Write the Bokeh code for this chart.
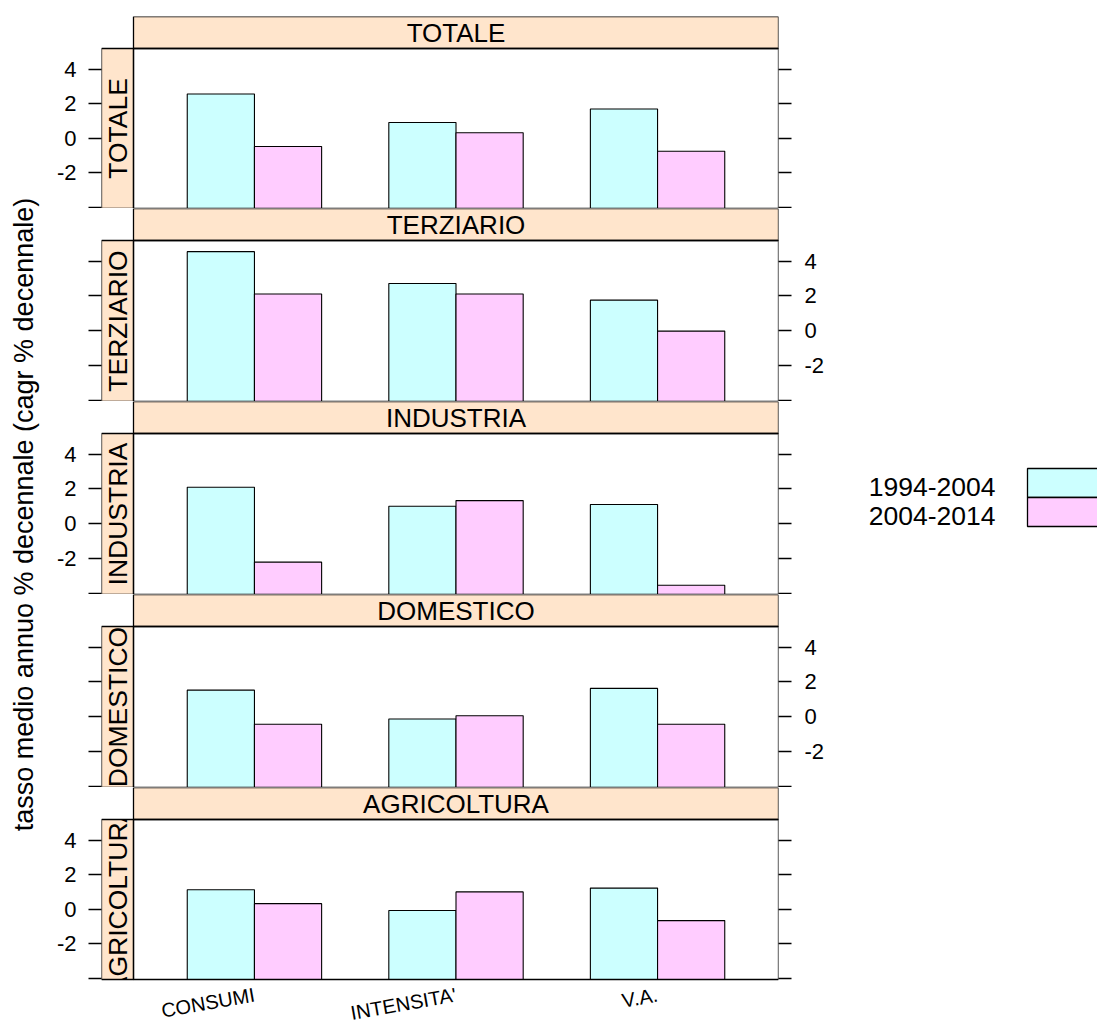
import math
from bokeh.plotting import figure
from bokeh.models import Range1d, LinearAxis, FixedTicker, ColumnDataSource
from bokeh.layouts import row, column
from bokeh.embed import file_html
from bokeh.resources import INLINE
from bokeh.core.properties import value

# ---------------- data ----------------
panels = ["TOTALE", "TERZIARIO", "INDUSTRIA", "DOMESTICO", "AGRICOLTURA"]
categories = ["CONSUMI", "INTENSITA'", "V.A."]
periods = ["1994-2004", "2004-2014"]

totale_1994_2004 = [2.56, 0.91, 1.69]
totale_2004_2014 = [-0.48, 0.31, -0.76]
terziario_1994_2004 = [4.55, 2.72, 1.76]
terziario_2004_2014 = [2.11, 2.11, -0.02]
industria_1994_2004 = [2.10, 1.01, 1.11]
industria_2004_2014 = [-2.21, 1.33, -3.54]
domestico_1994_2004 = [1.53, -0.13, 1.63]
domestico_2004_2014 = [-0.43, 0.06, -0.43]
agricoltura_1994_2004 = [1.12, -0.08, 1.22]
agricoltura_2004_2014 = [0.32, 1.00, -0.66]

y_ticks = [-4, -2, 0, 2, 4]
y_tick_labels = {-4: "", -2: "-2", 0: "0", 2: "2", 4: "4"}
y_title = "tasso medio annuo % decennale (cagr % decennale)"

series = {
    "TOTALE": (totale_1994_2004, totale_2004_2014),
    "TERZIARIO": (terziario_1994_2004, terziario_2004_2014),
    "INDUSTRIA": (industria_1994_2004, industria_2004_2014),
    "DOMESTICO": (domestico_1994_2004, domestico_2004_2014),
    "AGRICOLTURA": (agricoltura_1994_2004, agricoltura_2004_2014),
}

# ---------------- style / layout ----------------
FONT = "Liberation Sans"
COLORS = ["#CCFFFF", "#FFCCFF"]
STRIP_FILL = "#FFE5CC"
YLO, YHI = -4.07, 5.19
XLO, XHI = 0.4, 3.6
TITLE_W = 48
LEFT_B, STRIP, PANEL_W, RIGHT_B = 53, 32, 645, 50
FIG_W = LEFT_B + STRIP + PANEL_W + RIGHT_B
LEG_W = 1097 - TITLE_W - FIG_W
frame_h = [192, 193, 193, 193, 192]
top_b = [16, 0, 0, 0, 0]
BOTTOM_EXTRA = 44
TOTAL_H = sum(top_b) + sum(frame_h) + BOTTOM_EXTRA

px_x = PANEL_W / (XHI - XLO)
x_lo = XLO - STRIP / px_x
xs = list(range(1, len(categories) + 1))
bw = 1.0 / 3.0

figs = []
n = len(panels)
for i, name in enumerate(panels):
    last = i == n - 1
    hp = frame_h[i] - STRIP
    ppu = hp / (YHI - YLO)
    extra = BOTTOM_EXTRA if last else 0
    y_top = YHI + STRIP / ppu
    y_bot = YLO - extra / ppu
    p = figure(width=FIG_W, height=top_b[i] + frame_h[i] + extra,
               x_range=Range1d(x_lo, XHI), y_range=Range1d(y_bot, y_top),
               x_axis_location=None, y_axis_location=None,
               toolbar_location=None, output_backend="svg", title=None,
               min_border_left=LEFT_B, min_border_right=RIGHT_B,
               min_border_top=top_b[i], min_border_bottom=0,
               outline_line_color=None, background_fill_color=None,
               border_fill_color="white")
    p.grid.grid_line_color = None

    # left strip fill + text
    p.quad(left=[x_lo], right=[XLO], bottom=[YLO], top=[YHI],
           fill_color=STRIP_FILL, line_color=None)
    p.text(x=[(x_lo + XLO) / 2], y=[(YLO + YHI) / 2], text=[name],
           angle=math.pi / 2, text_align="center", text_baseline="middle",
           text_font=value(FONT), text_font_size="26.5px", text_color="black")
    # clip the left-strip text to its strip
    p.quad(left=[x_lo], right=[XLO], bottom=[YHI], top=[y_top],
           fill_color="white", line_color=None)
    if last:
        p.quad(left=[x_lo], right=[XLO], bottom=[y_bot], top=[YLO],
               fill_color="white", line_color=None)

    # top strip
    p.quad(left=[XLO], right=[XHI], bottom=[YHI], top=[y_top],
           fill_color=STRIP_FILL, line_color=None)
    p.text(x=[(XLO + XHI) / 2], y=[(YHI + y_top) / 2], text=[name],
           text_align="center", text_baseline="middle",
           text_font=value(FONT), text_font_size="26px", text_color="black")

    # bars
    a, b = series[name]
    for j, vals in enumerate((a, b)):
        src = ColumnDataSource(dict(x=[c + (j - 0.5) * bw for c in xs],
                                    top=vals, cat=categories))
        p.vbar(x="x", top="top", bottom=YLO, width=bw, source=src,
               fill_color=COLORS[j], line_color="black", line_width=1.1)

    # borders
    for (l, r, bt, tp) in ((x_lo, XLO, YLO, YHI), (XLO, XHI, YHI, y_top),
                           (XLO, XHI, YLO, YHI)):
        p.quad(left=[l], right=[r], bottom=[bt], top=[tp],
               fill_color=None, line_color="black", line_width=1.3)

    # y axes: ticks both sides, labels alternate
    for side, show in (("left", i % 2 == 0), ("right", i % 2 == 1)):
        ax = LinearAxis(ticker=FixedTicker(ticks=y_ticks),
                        axis_line_color=None,
                        major_tick_out=13, major_tick_in=0,
                        major_tick_line_color="black", major_tick_line_width=1.3,
                        minor_tick_line_color=None,
                        major_label_standoff=12 if side == "left" else 13,
                        major_label_overrides=y_tick_labels,
                        major_label_text_font=FONT,
                        major_label_text_font_size="22px",
                        major_label_text_color="black" if show else None)
        p.add_layout(ax, side)

    if last:
        p.text(x=xs, y=[YLO - 15 / ppu] * len(xs), text=categories,
               angle=math.radians(10), text_align="right",
               text_baseline="middle", text_font=value(FONT),
               text_font_size="20px", text_color="black")
    figs.append(p)

# ---------------- y title ----------------
tf = figure(width=TITLE_W, height=TOTAL_H, x_range=Range1d(0, TITLE_W),
            y_range=Range1d(TOTAL_H, 0), x_axis_location=None,
            y_axis_location=None, toolbar_location=None, output_backend="svg",
            title=None, min_border=0, outline_line_color=None)
tf.grid.grid_line_color = None
tf.text(x=[23.5], y=[514], text=[y_title], angle=math.pi / 2,
        text_align="center", text_baseline="middle",
        text_font=value(FONT), text_font_size="27px", text_color="black")

# ---------------- legend ----------------
lf = figure(width=LEG_W, height=TOTAL_H, x_range=Range1d(0, LEG_W),
            y_range=Range1d(TOTAL_H, 0), x_axis_location=None,
            y_axis_location=None, toolbar_location=None, output_backend="svg",
            title=None, min_border=0, outline_line_color=None)
lf.grid.grid_line_color = None
box_left, box_top, box_h, text_right = 199, 468, 29, 167
for k, per in enumerate(periods):
    t = box_top + k * box_h
    lf.quad(left=[box_left], right=[box_left + 120], top=[t], bottom=[t + box_h],
            fill_color=COLORS[k], line_color="black", line_width=1.3)
    lf.text(x=[text_right], y=[t + box_h / 2 + 4], text=[per],
            text_align="right", text_baseline="middle",
            text_font=value(FONT), text_font_size="26.5px", text_color="black")

layout = row(tf, column(*figs), lf)
open("out.html", "w").write(file_html(layout, INLINE))
